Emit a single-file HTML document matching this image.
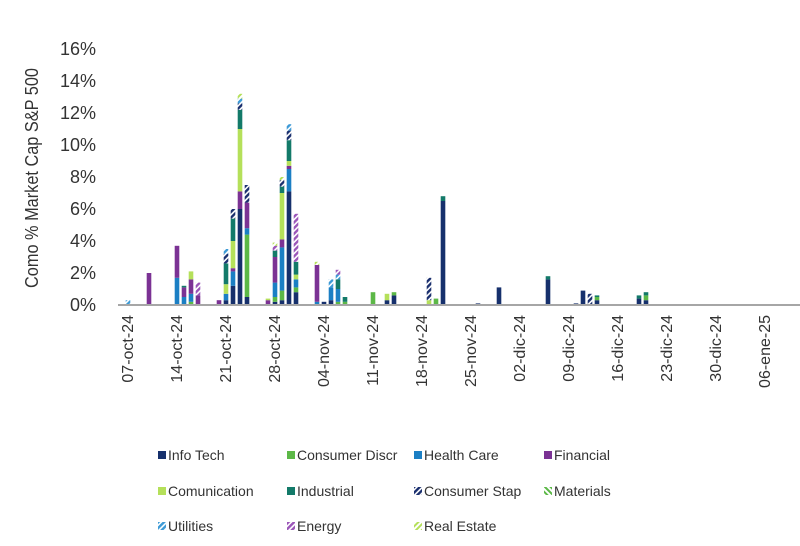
<!DOCTYPE html>
<html><head><meta charset="utf-8"><style>
html,body{margin:0;padding:0;background:#fff;}
svg{display:block;font-family:"Liberation Sans",sans-serif;}
</style></head><body>
<svg id="chart" width="800" height="546" viewBox="0 0 800 546">
<defs>
<pattern id="h-cs" width="4" height="4" patternUnits="userSpaceOnUse" patternTransform="rotate(45)"><rect width="4" height="4" fill="#fff"/><rect width="2.4" height="4" fill="#1a2f6e"/></pattern>
<pattern id="h-mat" width="4" height="4" patternUnits="userSpaceOnUse" patternTransform="rotate(-45)"><rect width="4" height="4" fill="#fff"/><rect width="2" height="4" fill="#5cb847"/></pattern>
<pattern id="h-ut" width="4" height="4" patternUnits="userSpaceOnUse" patternTransform="rotate(45)"><rect width="4" height="4" fill="#fff"/><rect width="2.4" height="4" fill="#3d9ad6"/></pattern>
<pattern id="h-en" width="4" height="4" patternUnits="userSpaceOnUse" patternTransform="rotate(45)"><rect width="4" height="4" fill="#fff"/><rect width="2.4" height="4" fill="#9a55b8"/></pattern>
<pattern id="h-re" width="4" height="4" patternUnits="userSpaceOnUse" patternTransform="rotate(45)"><rect width="4" height="4" fill="#fff"/><rect width="2" height="4" fill="#b5e05a"/></pattern>
</defs>
<text x="38" y="178" transform="rotate(-90 38 178)" text-anchor="middle" font-size="18" textLength="220" lengthAdjust="spacingAndGlyphs" fill="#333">Como % Market Cap S&amp;P 500</text>
<g id="yticks"></g><g id="bars"></g><g id="xticks"></g><g id="legend"></g>
</svg>
<script>
const tickLabelsY = ["0%","2%","4%","6%","8%","10%","12%","14%","16%"];
const tickValuesY = [0,2,4,6,8,10,12,14,16];
const tickLabelsX = ["07-oct-24","14-oct-24","21-oct-24","28-oct-24","04-nov-24","11-nov-24","18-nov-24","25-nov-24","02-dic-24","09-dic-24","16-dic-24","23-dic-24","30-dic-24","06-ene-25"];
const tickDaysX = [0,7,14,21,28,35,42,49,56,63,70,77,84,91];
const barDays = [0,3,7,8,9,10,13,14,15,16,17,20,21,22,23,24,27,28,29,30,31,35,37,38,43,44,45,50,53,59,60,64,65,66,67,73,74];
const infoTech     = [0,0,0,0,0,0,0,.3,1.2,6.0,.5,0,.2,.3,7.1,.8,0,.2,.3,0,0,0,.3,.6,0,0,6.5,.1,1.1,.05,1.6,.1,.9,0,.3,.4,.3];
const consDiscr    = [0,0,0,0,.2,0,0,0,0,0,3.9,0,.3,.6,0,.3,0,0,0,.2,.2,.8,0,.2,0,.4,0,0,0,0,0,0,0,0,.2,0,.3];
const healthCare   = [0,0,1.7,.5,.5,0,0,.4,.9,0,.4,0,.9,2.7,1.4,.5,.2,0,.8,.8,0,0,0,0,0,0,0,0,0,0,0,0,0,0,0,0,0];
const financial    = [0,2.0,2.0,.6,.9,.6,.3,0,.2,1.1,1.6,.3,1.6,.5,.2,0,2.3,0,0,0,0,0,0,0,0,0,0,0,0,0,0,0,0,0,0,0,0];
const comunication = [0,0,0,0,.5,0,0,.6,1.7,3.9,0,.1,0,2.9,.3,.3,0,0,0,0,0,0,.4,0,.3,0,0,0,0,0,0,0,0,0,0,0,0];
const industrial   = [0,0,0,.1,0,0,0,1.3,1.4,1.2,0,0,.4,.4,1.3,.8,0,0,0,.6,.3,0,0,0,0,0,.3,0,0,0,.2,0,0,0,.1,.2,.2];
const consStap     = [0,0,0,0,0,0,0,.6,.6,.4,1.1,0,0,.4,.6,0,0,0,0,0,0,0,0,0,1.4,0,0,0,0,0,0,0,0,.7,0,0,0];
const materials    = [0,0,0,0,0,0,0,0,0,0,0,0,0,0,0,0,0,0,0,0,0,0,0,0,0,0,0,0,0,0,0,0,0,0,0,0,0];
const utilities    = [.3,0,0,0,0,0,0,.3,0,.3,0,0,0,0,.4,0,0,0,.5,.3,0,0,0,0,0,0,0,0,0,0,0,0,0,0,0,0,0];
const energy       = [0,0,0,0,0,.8,0,0,0,0,0,0,.3,0,0,3.0,0,0,0,.3,0,0,0,0,0,0,0,0,0,0,0,0,0,0,0,0,0];
const realEstate   = [0,0,0,0,0,0,0,0,0,.3,0,0,.2,.2,0,0,.2,0,0,0,0,0,0,0,0,0,0,0,0,0,0,0,0,0,0,0,0];
const seriesNames = ["Info Tech","Consumer Discr","Health Care","Financial","Comunication","Industrial","Consumer Stap","Materials","Utilities","Energy","Real Estate"];
const seriesData = [infoTech,consDiscr,healthCare,financial,comunication,industrial,consStap,materials,utilities,energy,realEstate];
const fills = ["#16306c","#5cb847","#1b7fc4","#7b3294","#b5e05a","#137a69","url(#h-cs)","url(#h-mat)","url(#h-ut)","url(#h-en)","url(#h-re)"];
const NS="http://www.w3.org/2000/svg";
const y0=305, pxPer=16, x0=128, pxDay=7.0;
const yScale=v=>y0-v*pxPer, xScale=d=>x0+d*pxDay;
function mk(tag,attrs,parent){const e=document.createElementNS(NS,tag);for(const k in attrs)e.setAttribute(k,attrs[k]);parent.appendChild(e);return e;}
const gy=document.getElementById('yticks');
tickValuesY.forEach((v,i)=>{const t=mk('text',{x:96,y:yScale(v)+6,'text-anchor':'end','font-size':18,fill:'#333'},gy);t.textContent=tickLabelsY[i];

});
const gb=document.getElementById('bars');
barDays.forEach((d,i)=>{let acc=0;const x=xScale(d);
seriesData.forEach((s,k)=>{const v=s[i];if(!v)return;const r=mk('rect',{x:x-2.3,y:yScale(acc+v),width:4.6,height:v*pxPer,fill:fills[k]},gb);acc+=v;

});});
const base=mk('line',{x1:118,y1:y0,x2:800,y2:y0,stroke:'#a6a6a6','stroke-width':2},gb);


const gx=document.getElementById('xticks');
tickDaysX.forEach((d,i)=>{const x=xScale(d)+5;const t=mk('text',{x:x,y:315,transform:`rotate(-90 ${x} 315)`,'text-anchor':'end','font-size':16,fill:'#333'},gx);t.textContent=tickLabelsX[i];

});
const gl=document.getElementById('legend');
const legX=[162,291,418,548], legY=[455,491,526];
seriesNames.forEach((n,i)=>{const x=legX[i%4],y=legY[Math.floor(i/4)];const g=mk('g',{},gl);


mk('rect',{x:x-4,y:y-4,width:8,height:8,fill:fills[i]},g);
const t=mk('text',{x:x+6,y:y+5,'font-size':14,fill:'#333'},g);t.textContent=n;});
</script>
</body></html>
